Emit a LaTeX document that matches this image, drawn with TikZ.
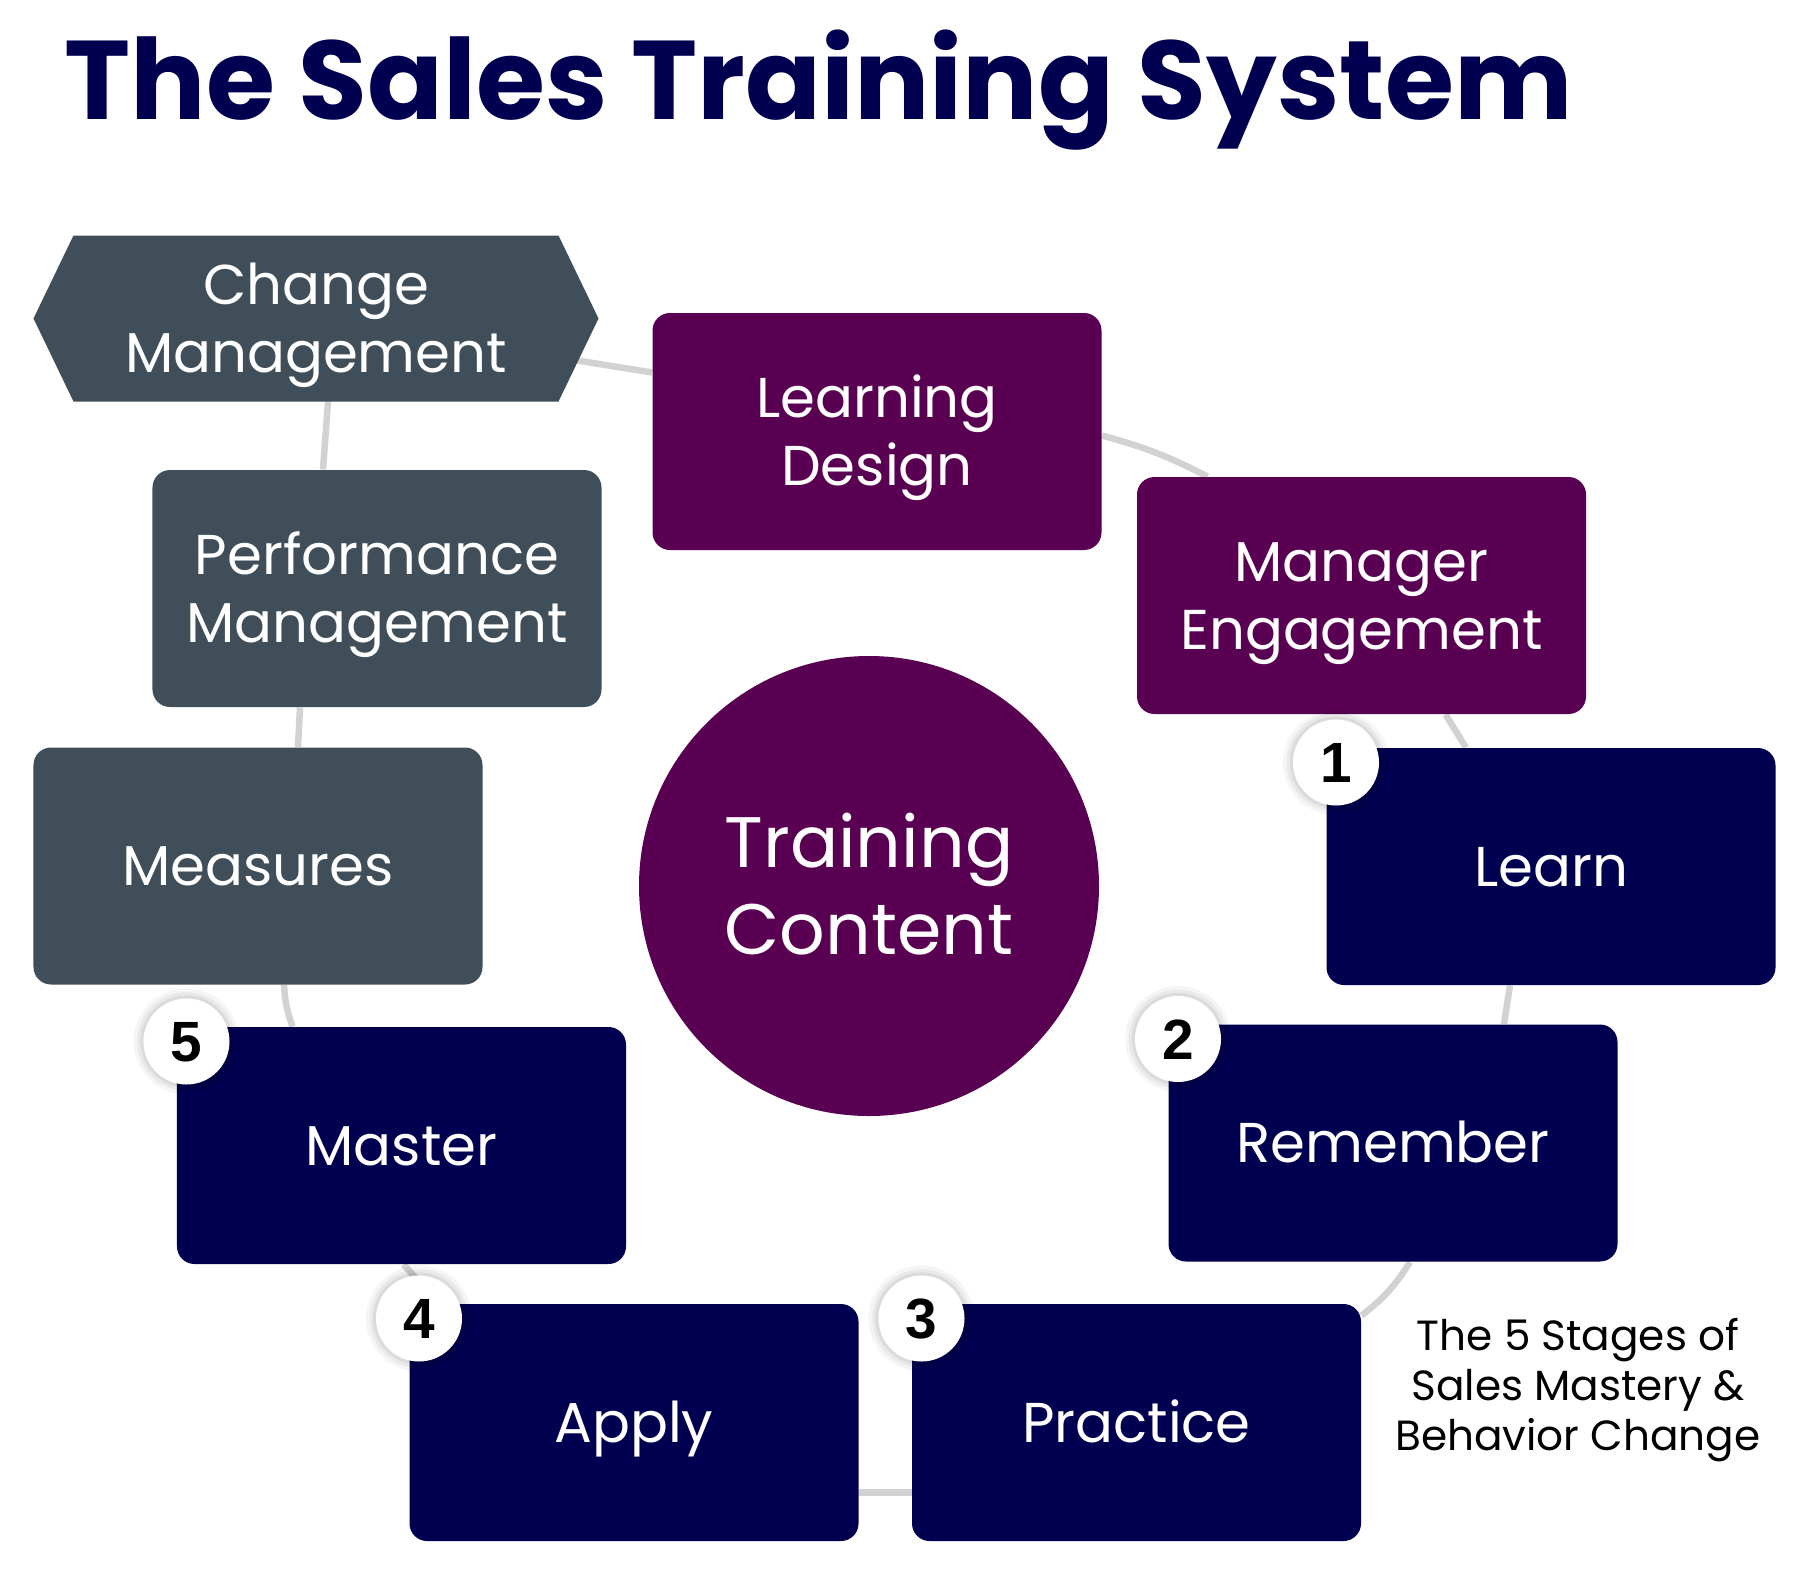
\documentclass[tikz,border=0pt]{standalone}
\usepackage{fontspec}
\setmainfont{Poppins}
\newfontfamily\digitfont{Liberation Sans}
\usetikzlibrary{calc,backgrounds}
\definecolor{navy}{RGB}{1,0,80}
\definecolor{plum}{RGB}{89,0,82}
\definecolor{slate}{RGB}{63,78,88}
\definecolor{linkgray}{RGB}{210,210,210}

\begin{document}
\begin{tikzpicture}[x=0.4pt, y=-0.4pt,
	box/.style={rectangle, rounded corners=7pt, minimum width=179.6pt, minimum height=94.8pt, inner sep=0pt,
		text=white, align=center, font=\fontsize{22.45}{27.2}\selectfont, text height=15.6pt, text depth=0pt},
	twoline/.style={text height=42.8pt},
	stage/.style={box, fill=navy},
	plumbox/.style={box, fill=plum},
	slatebox/.style={box, fill=slate},
	badge/.style={circle, fill=white, minimum size=34.4pt, inner sep=0pt, text=black,
		font=\digitfont\bfseries\fontsize{22.7}{22.7}\selectfont, text height=16.2pt, text depth=0pt,
		preaction={draw=black, draw opacity=0.04, line width=8pt},
		preaction={draw=black, draw opacity=0.05, line width=5pt},
		preaction={draw=black, draw opacity=0.06, line width=2.5pt}},
	link/.style={draw=linkgray, line width=2.6pt}]
	\useasboundingbox (0,0) rectangle (1818,1573);

	\node[anchor=base west, inner sep=0pt, text=navy, font=\bfseries\fontsize{44.75}{44.75}\selectfont] (title) at (64,119) {The Sales Training System};

	\node[box, twoline] (chg) at (316,318.5) [minimum width=193.6pt, minimum height=66pt, rounded corners=0pt] {Change\\Management};
	\node[plumbox, twoline] (ld) at (877,431.5) {Learning\\Design};
	\node[plumbox, twoline] (me) at (1361.5,595.5) {Manager\\Engagement};
	\node[slatebox, twoline] (perf) at (377,588.5) {Performance\\Management};
	\node[slatebox] (meas) at (258,866) {Measures};
	\node[stage] (learn) at (1551,866.5) {Learn};
	\node[stage] (rem) at (1393,1143) {Remember};
	\node[stage] (prac) at (1136.5,1422.5) {Practice};
	\node[stage] (apply) at (634,1422.5) {Apply};
	\node[stage] (master) at (401.5,1145.5) {Master};

	\node[circle, fill=plum, minimum size=184pt, inner sep=0pt, text=white, align=center,
		font=\fontsize{28.6}{34.5}\selectfont, text height=54.5pt, text depth=0pt] (core) at (869,886) {Training\\Content};

	\node[badge] (n1) at ($(learn.north west)+(10,15)$) {1};
	\node[badge] (n2) at ($(rem.north west)+(10,15)$) {2};
	\node[badge] (n3) at ($(prac.north west)+(10,15)$) {3};
	\node[badge] (n4) at ($(apply.north west)+(10,15)$) {4};
	\node[badge] (n5) at ($(master.north west)+(10,15)$) {5};

	\node[inner sep=0pt, align=center, font=\fontsize{16.87}{20}\selectfont, text height=51.8pt, text depth=0pt] (caption) at (1578,1385.5) {The 5 Stages of\\Sales Mastery \&\\Behavior Change};

	\begin{scope}[on background layer]
		\draw[link] ($(chg.east)+(0,39)$) -- ($(ld.west)+(0,-59)$);
		\draw[link] ($(ld.east)+(0,4)$) to[bend left=6] ($(me.north west)+(71,0)$);
		\draw[link] ($(me.south)+(84,0)$) -- ($(learn.north west)+(140,0)$);
		\draw[link] ($(learn.south west)+(184,0)$) -- ($(rem.north west)+(336,0)$);
		\draw[link] ($(rem.south)+(17,0)$) to[bend left=10] ($(prac.north east)+(0,12)$);
		\draw[link] ($(prac.west)+(0,70)$) -- ($(apply.east)+(0,70)$);
		\draw[link] ($(apply.north west)+(30,0)$) -- ($(master.south)+(2,0)$);
		\draw[link] ($(master.north west)+(116,0)$) to[bend left=8] ($(meas.south)+(26,0)$);
		\draw[link] ($(meas.north west)+(265,0)$) -- ($(perf.south west)+(148,0)$);
		\draw[link] ($(perf.north west)+(171,0)$) -- ($(chg.south)+(12,0)$);
		\fill[slate] (chg.north west) -- (chg.north east) -- ($(chg.east)+(40,0)$) -- (chg.south east)
			-- (chg.south west) -- ($(chg.west)+(-40,0)$) -- cycle;
	\end{scope}
\end{tikzpicture}
\end{document}
